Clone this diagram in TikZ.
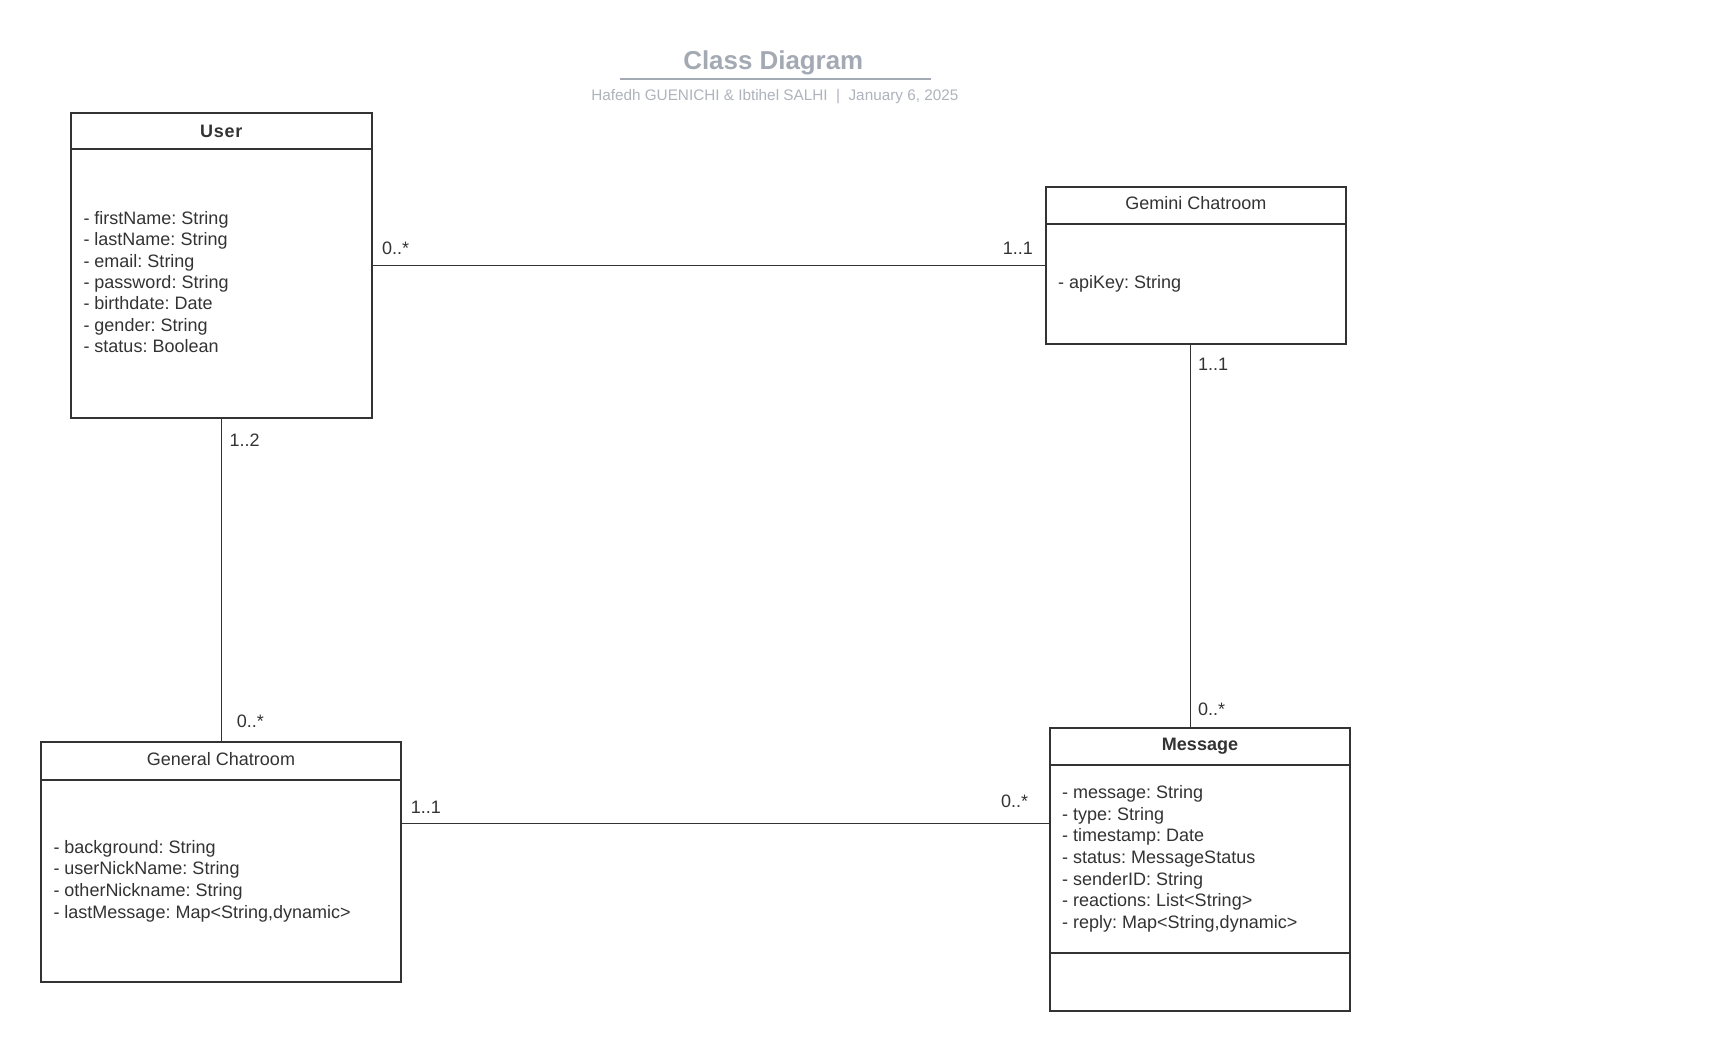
\documentclass[tikz,border=0pt]{standalone}
\usepackage{fontspec}
\setmainfont{Liberation Sans}
\frenchspacing
\definecolor{textc}{HTML}{333333}
\definecolor{linec}{HTML}{333333}
\definecolor{titlec}{HTML}{A4AAB4}
\definecolor{subc}{HTML}{AEB3BC}
\newcommand\attrfont{\fontsize{18}{21.5}\selectfont}
\begin{document}
\begin{tikzpicture}[x=1pt,y=-1pt,
  classbox/.style={draw=linec, line width=2pt, inner sep=0pt, outer sep=0pt, fill=white},
  ctitle/.style={anchor=base, inner sep=0pt, font=\attrfont, text=textc},
  attr/.style={anchor=north west, align=left, inner sep=0pt, font=\attrfont, text=textc},
  mult/.style={anchor=base west, inner sep=0pt, font=\attrfont, text=textc},
  multr/.style={anchor=base east, inner sep=0pt, font=\attrfont, text=textc},
  assoc/.style={draw=linec, line width=1.1pt},
  divider/.style={draw=linec, line width=2pt}]
\fill[white] (0,0) rectangle (1730,1051);
\useasboundingbox (0,0) rectangle (1730,1051);

% heading
\node[inner sep=0pt, font=\bfseries\fontsize{25.9}{30}\selectfont, text=titlec] (title) at (773.3,62.5) {Class Diagram};
\draw[titlec, line width=2pt] (620,79.3) -- (931,79.3);
\node[inner sep=0pt, font=\fontsize{15.3}{18}\selectfont, text=subc] (sub) at (774.8,96.2) {Hafedh GUENICHI \& Ibtihel SALHI\ \ |\ \ January 6, 2025};

% class boxes
\node[classbox, minimum width=301pt, minimum height=305.3pt] (user) at (221.2,265.35) {};
\node[classbox, minimum width=300.3pt, minimum height=157.6pt] (gem) at (1195.85,265.5) {};
\node[classbox, minimum width=360pt, minimum height=239.7pt] (gen) at (221,861.85) {};
\node[classbox, minimum width=300pt, minimum height=282.4pt] (msg) at (1200,869.5) {};

% compartments
\draw[divider] ([yshift=-36.3pt]user.north west) -- ([yshift=-36.3pt]user.north east);
\draw[divider] ([yshift=-37pt]gem.north west) -- ([yshift=-37pt]gem.north east);
\draw[divider] ([yshift=-38pt]gen.north west) -- ([yshift=-38pt]gen.north east);
\draw[divider] ([yshift=-36.7pt]msg.north west) -- ([yshift=-36.7pt]msg.north east);
\draw[divider] ([yshift=-224.4pt]msg.north west) -- ([yshift=-224.4pt]msg.north east);

% class names
\node[ctitle, font=\bfseries\addfontfeature{LetterSpace=4}\attrfont] (usert) at (221.2,137.4) {User};
\node[ctitle] (gemt) at (1195.9,209.4) {Gemini Chatroom};
\node[ctitle] (gent) at (221,765.4) {General Chatroom};
\node[ctitle, font=\bfseries\attrfont] (msgt) at (1200,750.4) {Message};

% attributes
\node[attr, font=\fontsize{18}{21.4}\selectfont] (usera) at (83.3,209.2) {\strut- firstName: String\\- lastName: String\\- email: String\\- password: String\\- birthdate: Date\\- gender: String\\- status: Boolean};
\node[attr] (gema) at (1058,273.35) {\strut- apiKey: String};
\node[attr, font=\fontsize{18}{21.7}\selectfont] (gena) at (53.3,837.8) {\strut- background: String\\- userNickName: String\\- otherNickname: String\\- lastMessage: Map<String,dynamic>};
\node[attr, font=\fontsize{18}{21.6}\selectfont] (msga) at (1062,783.35) {\strut- message: String\\- type: String\\- timestamp: Date\\- status: MessageStatus\\- senderID: String\\- reactions: List<String>\\- reply: Map<String,dynamic>};

% associations
\draw[assoc] (user.east) -- (user.east -| gem.west);
\draw[assoc] ([xshift=0.5pt]user.south) -- ([xshift=0.5pt]user.south |- gen.north);
\draw[assoc] ([xshift=-5.2pt]gem.south) -- ([xshift=-5.2pt]gem.south |- msg.north);
\draw[assoc] ([yshift=38.6pt]gen.east) -- ([yshift=38.6pt]gen.east -| msg.west);

% multiplicities
\node[mult] (m1) at (382,254.4) {0..*};
\node[multr] (m2) at (1033,254.4) {1..1};
\node[mult] (m3) at (1198,370.4) {1..1};
\node[mult] (m4) at (229.3,446.4) {1..2};
\node[mult] (m5) at (236.7,727.1) {0..*};
\node[mult] (m6) at (1198,715.4) {0..*};
\node[mult] (m7) at (410.7,813.1) {1..1};
\node[multr] (m8) at (1028.3,807.1) {0..*};
\end{tikzpicture}
\end{document}
